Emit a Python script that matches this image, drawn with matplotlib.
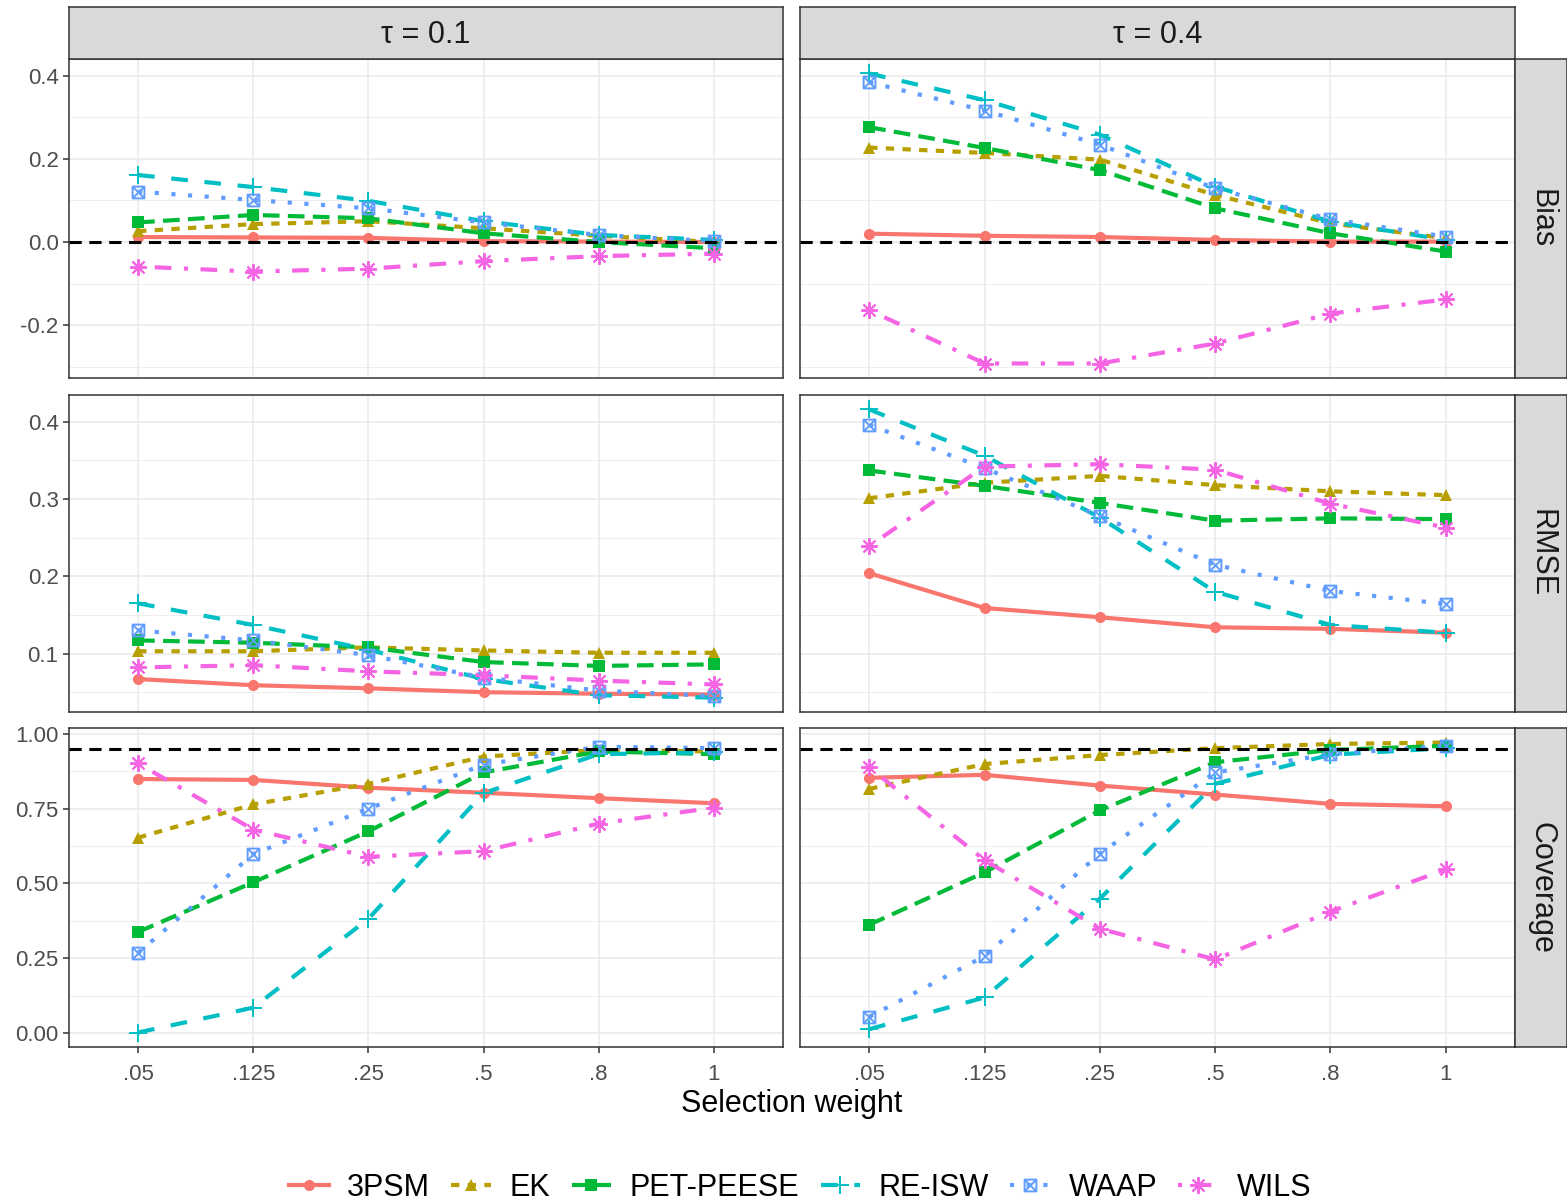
import numpy as np
import matplotlib.pyplot as plt
from matplotlib.path import Path
from matplotlib.lines import Line2D

plt.rcParams['font.family'] = ['Liberation Sans', 'DejaVu Sans']

weights = ['.05', '.125', '.25', '.5', '.8', '1']
methods = ['3PSM', 'EK', 'PET-PEESE', 'RE-ISW', 'WAAP', 'WILS']
taus = ['τ = 0.1', 'τ = 0.4']
measures = ['Bias', 'RMSE', 'Coverage']

bias_t1 = {
    '3PSM':      [0.012, 0.011, 0.010, 0.002, 0.001, 0.000],
    'EK':        [0.026, 0.043, 0.050, 0.033, 0.015, 0.000],
    'PET-PEESE': [0.047, 0.065, 0.057, 0.021, 0.000, -0.015],
    'RE-ISW':    [0.161, 0.132, 0.099, 0.050, 0.017, 0.005],
    'WAAP':      [0.121, 0.101, 0.081, 0.047, 0.017, 0.002],
    'WILS':      [-0.059, -0.071, -0.064, -0.046, -0.034, -0.028],
}
bias_t4 = {
    '3PSM':      [0.020, 0.015, 0.012, 0.005, 0.001, 0.001],
    'EK':        [0.227, 0.214, 0.198, 0.113, 0.045, 0.009],
    'PET-PEESE': [0.276, 0.226, 0.173, 0.081, 0.021, -0.023],
    'RE-ISW':    [0.405, 0.341, 0.258, 0.133, 0.049, 0.005],
    'WAAP':      [0.384, 0.316, 0.234, 0.129, 0.055, 0.013],
    'WILS':      [-0.164, -0.292, -0.292, -0.244, -0.172, -0.138],
}
rmse_t1 = {
    '3PSM':      [0.067, 0.059, 0.055, 0.050, 0.048, 0.047],
    'EK':        [0.103, 0.103, 0.108, 0.104, 0.101, 0.101],
    'PET-PEESE': [0.117, 0.114, 0.108, 0.089, 0.084, 0.086],
    'RE-ISW':    [0.165, 0.137, 0.105, 0.067, 0.046, 0.043],
    'WAAP':      [0.130, 0.117, 0.098, 0.069, 0.052, 0.045],
    'WILS':      [0.082, 0.085, 0.077, 0.072, 0.065, 0.060],
}
rmse_t4 = {
    '3PSM':      [0.204, 0.159, 0.147, 0.134, 0.132, 0.127],
    'EK':        [0.301, 0.321, 0.330, 0.318, 0.310, 0.305],
    'PET-PEESE': [0.337, 0.317, 0.295, 0.272, 0.275, 0.274],
    'RE-ISW':    [0.416, 0.356, 0.276, 0.180, 0.137, 0.127],
    'WAAP':      [0.396, 0.340, 0.278, 0.215, 0.181, 0.164],
    'WILS':      [0.239, 0.342, 0.345, 0.338, 0.294, 0.263],
}
cov_t1 = {
    '3PSM':      [0.849, 0.846, 0.820, 0.803, 0.785, 0.768],
    'EK':        [0.653, 0.764, 0.833, 0.924, 0.946, 0.941],
    'PET-PEESE': [0.338, 0.504, 0.674, 0.871, 0.941, 0.932],
    'RE-ISW':    [0.002, 0.085, 0.382, 0.802, 0.932, 0.938],
    'WAAP':      [0.268, 0.598, 0.750, 0.897, 0.957, 0.952],
    'WILS':      [0.901, 0.680, 0.589, 0.608, 0.700, 0.753],
}
cov_t4 = {
    '3PSM':      [0.853, 0.863, 0.827, 0.797, 0.766, 0.758],
    'EK':        [0.816, 0.899, 0.929, 0.952, 0.966, 0.971],
    'PET-PEESE': [0.362, 0.537, 0.744, 0.905, 0.946, 0.960],
    'RE-ISW':    [0.013, 0.119, 0.449, 0.833, 0.930, 0.952],
    'WAAP':      [0.054, 0.257, 0.600, 0.871, 0.932, 0.960],
    'WILS':      [0.888, 0.578, 0.349, 0.246, 0.406, 0.547],
}

panels = [[bias_t1, bias_t4], [rmse_t1, rmse_t4], [cov_t1, cov_t4]]
ref_lines = [0.0, None, 0.95]
yticks = [[-0.2, 0.0, 0.2, 0.4], [0.1, 0.2, 0.3, 0.4], [0.0, 0.25, 0.5, 0.75, 1.0]]
ytick_labels = [['-0.2', '0.0', '0.2', '0.4'], ['0.1', '0.2', '0.3', '0.4'],
                ['0.00', '0.25', '0.50', '0.75', '1.00']]

# ggplot-ish styling
colors = ['#F8766D', '#B79F00', '#00BA38', '#00BFC4', '#619CFF', '#F564E3']
dashes = [None, (2, 2), (4, 2), (4, 4), (1, 3), (1, 3, 4, 3)]

sq_x = Path([(-1, -1), (1, -1), (1, 1), (-1, 1), (-1, -1),
             (-1, -1), (1, 1), (-1, 1), (1, -1)],
            [Path.MOVETO, Path.LINETO, Path.LINETO, Path.LINETO, Path.CLOSEPOLY,
             Path.MOVETO, Path.LINETO, Path.MOVETO, Path.LINETO])
markers = ['o', '^', 's', '+', sq_x, (8, 2, 0)]
msizes = [8, 9, 8, 13, 8.5, 12]
filled = [True, True, True, False, False, False]
lw = 3.0

W, H = 1567, 1203
fig = plt.figure(figsize=(W / 100, H / 100), dpi=100)


def rect(x0, y0, x1, y1):
    return [x0 / W, 1 - y1 / H, (x1 - x0) / W, (y1 - y0) / H]


col_x = [(69, 783), (800, 1515)]
row_y = [(59, 378), (395, 712), (728, 1047)]
x = np.arange(1, 7)


def style_marker(i):
    if filled[i]:
        return dict(marker=markers[i], ms=msizes[i], mfc=colors[i], mec=colors[i], mew=0)
    return dict(marker=markers[i], ms=msizes[i], mfc='none', mec=colors[i], mew=1.4)


for r in range(3):
    vals = [v for d in panels[r] for s in d.values() for v in s]
    if ref_lines[r] is not None:
        vals.append(ref_lines[r])
    lo, hi = min(vals), max(vals)
    pad = (hi - lo) * 0.05
    for c in range(2):
        ax = fig.add_axes(rect(col_x[c][0], row_y[r][0], col_x[c][1], row_y[r][1]))
        data = panels[r][c]
        for i, m in enumerate(methods):
            ln, = ax.plot(x, data[m], color=colors[i], lw=lw, zorder=2)
            if dashes[i] is not None:
                ln.set_dashes(dashes[i])
            ax.plot(x, data[m], ls='none', zorder=3, **style_marker(i))
        if ref_lines[r] is not None:
            ax.axhline(ref_lines[r], color='black', lw=2.2, dashes=(4, 2.5), zorder=5)
        ax.set_xlim(0.4, 6.6)
        ax.set_xticks(x)
        ax.set_xticklabels(weights)
        yt = yticks[r]
        ax.set_yticks(yt)
        ax.set_yticklabels(ytick_labels[r])
        step = yt[1] - yt[0]
        minor = [yt[0] - step / 2] + [t + step / 2 for t in yt]
        ax.set_yticks(minor, minor=True)
        ax.set_ylim(lo - pad, hi + pad)
        ax.grid(which='major', color='#EBEBEB', lw=1.2, zorder=0)
        ax.grid(which='minor', axis='y', color='#EBEBEB', lw=0.6, zorder=0)
        ax.set_axisbelow(True)
        ax.tick_params(which='minor', length=0)
        ax.tick_params(which='major', length=4, width=1.1, color='#333333',
                       labelcolor='#4D4D4D', labelsize=16, pad=3.5)
        ax.tick_params(axis='x', pad=8)
        if c == 1:
            ax.tick_params(axis='y', which='both', left=False, labelleft=False)
        if r < 2:
            ax.tick_params(axis='x', which='both', bottom=False, labelbottom=False)
        for sp in ax.spines.values():
            sp.set_color('#333333')
            sp.set_linewidth(1.1)

# strips
for c in range(2):
    sa = fig.add_axes(rect(col_x[c][0], 7, col_x[c][1], 59))
    sa.set_facecolor('#D9D9D9')
    sa.set_xticks([])
    sa.set_yticks([])
    for sp in sa.spines.values():
        sp.set_color('#333333')
        sp.set_linewidth(1.1)
    sa.text(0.5, 0.46, taus[c], ha='center', va='center', fontsize=22,
            color='#1A1A1A', transform=sa.transAxes)

for r in range(3):
    sa = fig.add_axes(rect(1515, row_y[r][0], 1567, row_y[r][1]))
    sa.set_facecolor('#D9D9D9')
    sa.set_xticks([])
    sa.set_yticks([])
    for sp in sa.spines.values():
        sp.set_color('#333333')
        sp.set_linewidth(1.1)
    sa.text(0.5, 0.5, measures[r], ha='center', va='center', fontsize=22,
            rotation=-90, color='#1A1A1A', transform=sa.transAxes)

fig.text(792 / W, 1 - 1104 / H, 'Selection weight', ha='center', va='center',
         fontsize=22, color='black')

handles = []
for i, m in enumerate(methods):
    h = Line2D([0], [0], color=colors[i], lw=lw, **style_marker(i))
    if dashes[i] is not None:
        h.set_dashes(dashes[i])
    handles.append(h)
fig.legend(handles, methods, loc='center', bbox_to_anchor=(800 / W, 1 - 1188 / H),
           ncol=6, frameon=False, fontsize=22, handlelength=1.3,
           handletextpad=0.6, columnspacing=0.7)

fig.savefig('out.png', dpi=100)
